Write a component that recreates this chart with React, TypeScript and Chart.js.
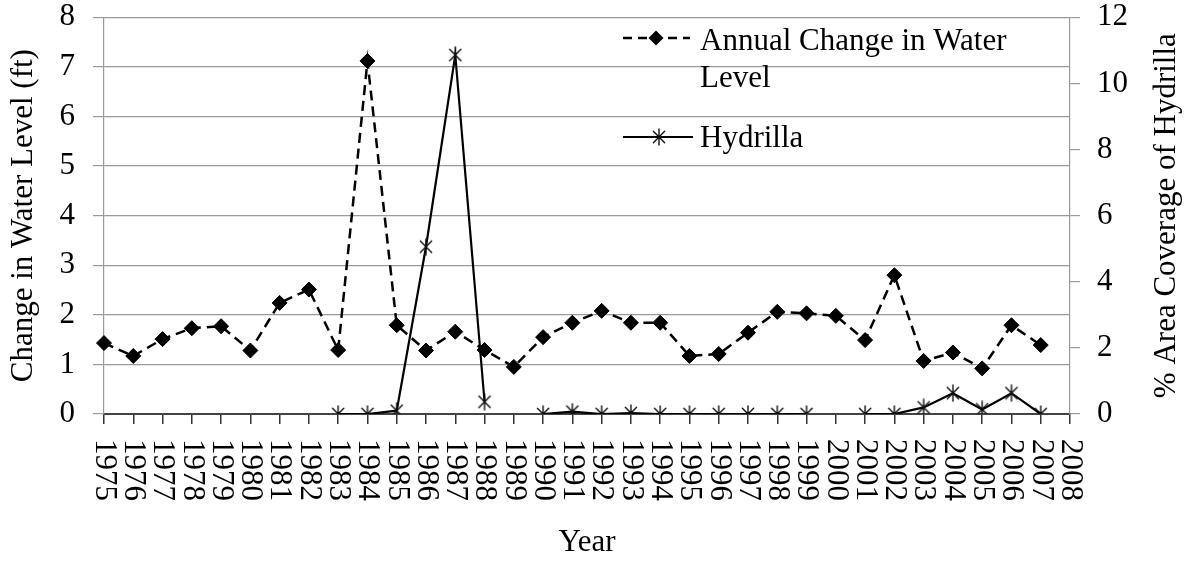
import React, { useEffect, useRef } from "react";
import { Chart, registerables } from "chart.js";

Chart.register(...registerables);

const years = [
  "1975", "1976", "1977", "1978", "1979", "1980", "1981", "1982", "1983", "1984",
  "1985", "1986", "1987", "1988", "1989", "1990", "1991", "1992", "1993", "1994",
  "1995", "1996", "1997", "1998", "1999", "2000", "2001", "2002", "2003", "2004",
  "2005", "2006", "2007", "2008",
];

const waterChange: (number | null)[] = [
  1.43, 1.17, 1.51, 1.73, 1.77, 1.28, 2.24, 2.51, 1.29, 7.12,
  1.79, 1.28, 1.66, 1.29, 0.95, 1.55, 1.84, 2.08, 1.84, 1.84,
  1.17, 1.21, 1.64, 2.06, 2.03, 1.98, 1.49, 2.8, 1.07, 1.24,
  0.92, 1.79, 1.39, null,
];

const hydrilla: (number | null)[] = [
  null, null, null, null, null, null, null, null, 0, 0,
  0.1, 5.06, 10.86, 0.37, null, 0, 0.07, 0, 0.03, 0,
  0, 0, 0, 0, 0, null, 0, 0, 0.2, 0.63,
  0.14, 0.63, 0, null,
];

const leftTicks = { min: 0, max: 8, step: 1 };
const rightTicks = { min: 0, max: 12, step: 2 };

const seriesNames = ["Annual Change in Water", "Level", "Hydrilla"];
const titles = {
  x: "Year",
  left: "Change in Water Level (ft)",
  right: "% Area Coverage of Hydrilla",
};

const FONT = '"Liberation Serif", "Times New Roman", serif';

function makeAsterisk(size: number, color: string, lw: number): HTMLCanvasElement {
  const c = document.createElement("canvas");
  c.width = size;
  c.height = size;
  const g = c.getContext("2d")!;
  const m = size / 2;
  const r = size / 2 - 1;
  g.strokeStyle = color;
  g.lineWidth = lw;
  g.lineCap = "round";
  g.beginPath();
  g.moveTo(m, m - r);
  g.lineTo(m, m + r);
  const d = r * Math.SQRT1_2;
  g.moveTo(m - d, m - d);
  g.lineTo(m + d, m + d);
  g.moveTo(m - d, m + d);
  g.lineTo(m + d, m - d);
  g.stroke();
  return c;
}

export default function App() {
  const ref = useRef<HTMLCanvasElement | null>(null);

  useEffect(() => {
    document.body.style.margin = "0";
    const canvas = ref.current!;
    const star = makeAsterisk(18, "#111", 1.4);

    const extras = {
      id: "extras",
      afterDraw(chart: any) {
        const ctx = chart.ctx as CanvasRenderingContext2D;
        const xs = chart.scales.x;
        const area = chart.chartArea;
        ctx.save();
        // rotated x tick labels (reading top to bottom)
        ctx.font = `31px ${FONT}`;
        ctx.fillStyle = "#000";
        ctx.textAlign = "left";
        ctx.textBaseline = "middle";
        years.forEach((lab, i) => {
          const x = xs.getPixelForTick(i);
          ctx.save();
          ctx.translate(x, area.bottom + 25);
          ctx.rotate(Math.PI / 2);
          ctx.fillText(lab, 0, 0);
          ctx.restore();
        });
        // right axis title (reading bottom to top)
        ctx.save();
        ctx.translate(1167, (area.top + area.bottom) / 2);
        ctx.rotate(-Math.PI / 2);
        ctx.textAlign = "center";
        ctx.fillText(titles.right, 0, 0);
        ctx.restore();

        // legend
        const lx0 = 623;
        const textX = 700;
        ctx.strokeStyle = "#000";
        ctx.lineWidth = 2.5;
        ctx.setLineDash([9, 6]);
        ctx.beginPath();
        ctx.moveTo(lx0, 38);
        ctx.lineTo(690, 38);
        ctx.stroke();
        ctx.setLineDash([]);
        ctx.fillStyle = "#000";
        ctx.beginPath();
        const cx = 656, cy = 38, r = 7.5;
        ctx.moveTo(cx, cy - r);
        ctx.lineTo(cx + r, cy);
        ctx.lineTo(cx, cy + r);
        ctx.lineTo(cx - r, cy);
        ctx.closePath();
        ctx.fill();
        ctx.textAlign = "left";
        ctx.textBaseline = "alphabetic";
        ctx.fillText(seriesNames[0], textX, 50);
        ctx.fillText(seriesNames[1], textX, 87);
        ctx.lineWidth = 2;
        ctx.beginPath();
        ctx.moveTo(lx0, 137);
        ctx.lineTo(693, 137);
        ctx.stroke();
        ctx.drawImage(star, 659 - 9, 137 - 9);
        ctx.fillText(seriesNames[2], textX, 147);
        ctx.restore();
      },
    };

    const chart = new Chart(canvas, {
      type: "line",
      data: {
        labels: years,
        datasets: [
          {
            label: seriesNames[0] + " " + seriesNames[1],
            data: waterChange,
            yAxisID: "y",
            borderColor: "#000",
            borderWidth: 2.5,
            borderDash: [10, 6],
            pointStyle: "rectRot",
            pointRadius: 7.5,
            pointBackgroundColor: "#000",
            pointBorderColor: "#000",
            pointBorderWidth: 1,
            tension: 0,
            spanGaps: false,
            order: 2,
          },
          {
            label: seriesNames[2],
            data: hydrilla,
            yAxisID: "y1",
            borderColor: "#000",
            borderWidth: 2.2,
            pointStyle: star as any,
            pointRadius: 9,
            tension: 0,
            spanGaps: false,
            order: 1,
          },
        ],
      },
      options: {
        responsive: false,
        animation: false,
        devicePixelRatio: 1,
        events: [],
        layout: { padding: { top: 0, left: 0, right: 0, bottom: 0 } },
        plugins: {
          legend: { display: false },
          tooltip: { enabled: false },
        },
        scales: {
          x: {
            type: "category",
            offset: false,
            grid: {
              display: true,
              drawOnChartArea: false,
              drawTicks: true,
              tickLength: 10,
              color: "#333",
              lineWidth: 1.5,
              offset: false,
            },
            border: { display: true, color: "#444", width: 2 },
            ticks: { display: false, autoSkip: false },
            title: {
              display: true,
              text: titles.x,
              font: { family: FONT, size: 31 },
              color: "#000",
              padding: { top: 0, bottom: 0 },
            },
            afterFit(scale: any) {
              scale.height = 147;
              scale.paddingLeft = 0;
              scale.paddingRight = 0;
            },
          },
          y: {
            position: "left",
            min: leftTicks.min,
            max: leftTicks.max,
            grid: {
              color: "#9a9a9a",
              lineWidth: 1.2,
              drawTicks: true,
              tickLength: 11,
            },
            border: { display: true, color: "#9a9a9a", width: 1.2 },
            ticks: {
              stepSize: leftTicks.step,
              padding: 18,
              color: "#000",
              font: { family: FONT, size: 31, lineHeight: 1.1 },
            },
            title: {
              display: true,
              text: titles.left,
              font: { family: FONT, size: 31 },
              color: "#000",
              padding: { top: 5, bottom: 0 },
            },
            afterFit(scale: any) {
              scale.width = 104;
              scale.paddingTop = 17.3;
              scale.paddingBottom = 0;
            },
          },
          y1: {
            position: "right",
            min: rightTicks.min,
            max: rightTicks.max,
            grid: {
              drawOnChartArea: false,
              color: "#9a9a9a",
              lineWidth: 1.2,
              drawTicks: true,
              tickLength: 10,
            },
            border: { display: true, color: "#9a9a9a", width: 1.2 },
            ticks: {
              stepSize: rightTicks.step,
              padding: 17,
              color: "#000",
              font: { family: FONT, size: 31, lineHeight: 1.1 },
            },
            afterFit(scale: any) {
              scale.width = 121;
              scale.paddingTop = 17.3;
              scale.paddingBottom = 0;
            },
          },
        },
      },
      plugins: [extras],
    });

    return () => chart.destroy();
  }, []);

  return (
    <div style={{ width: 1191, height: 561, background: "#fff" }}>
      <canvas ref={ref} width={1191} height={561} style={{ display: "block" }} />
    </div>
  );
}
